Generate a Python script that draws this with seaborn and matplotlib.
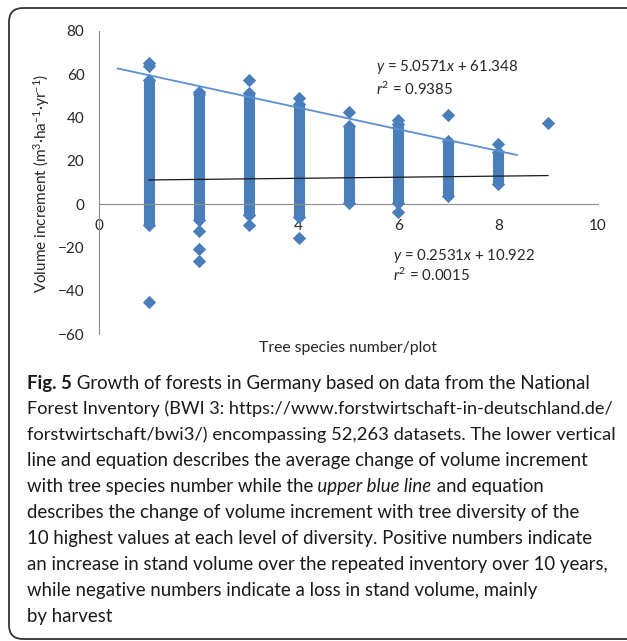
import numpy as np
import pandas as pd
import matplotlib.pyplot as plt
import seaborn as sns
from matplotlib.patches import FancyBboxPatch

# columns of plots per tree species number (solid part of each column)
species = [1, 2, 3, 4, 5, 6, 7, 8]
body_low = [-9.5, -7.5, -5.0, -6.0, 0.5, 0.5, 3.8, 9.2]
body_high = [57.5, 51.0, 51.5, 46.5, 36.0, 37.0, 29.0, 24.0]

# single diamonds sticking out of the columns
out_x = [1, 1, 1, 2, 2, 2, 2, 3, 3, 4, 4, 5, 6, 6, 7, 8, 9]
out_y = [65.3, 63.8, -45.3, 51.8, -12.5, -20.5, -26.2, 57.3, -9.7,
         48.9, -15.8, 42.7, 38.8, -3.5, 41.2, 27.7, 37.3]

# trend lines
top_x = [0.37, 8.38]
top_y = [62.7, 22.7]
mean_x = [1, 9]
mean_y = [11.18, 13.20]

yticks = [-60, -40, -20, 0, 20, 40, 60, 80]
xticks = [0, 2, 4, 6, 8, 10]

sns.set_style('white')
plt.rcParams['font.family'] = ['Lato', 'DejaVu Sans']
plt.rcParams['mathtext.fontset'] = 'custom'
plt.rcParams['mathtext.rm'] = 'Lato'
plt.rcParams['mathtext.it'] = 'Lato:italic'
plt.rcParams['mathtext.bf'] = 'Lato:bold'

blue = '#4a7ebb'
grey = '#8c8c8c'
txt = '#262626'

df = pd.DataFrame({
    'species': species + species + out_x,
    'increment': body_low + body_high + out_y,
})

fig = plt.figure(figsize=(6.27, 6.41), dpi=100)
ax = fig.add_axes([99 / 627, (641 - 334) / 641, 499 / 627, 303 / 641])

ax.vlines(species, body_low, body_high, color=blue, lw=8, zorder=2)
sns.scatterplot(data=df, x='species', y='increment', marker='D', s=46,
                color=blue, linewidth=0, ax=ax, zorder=3)
ax.plot(top_x, top_y, color='#5b8fd3', lw=1.3, zorder=4)
ax.plot(mean_x, mean_y, color='#1a1a1a', lw=0.9, zorder=4)

ax.set_xlim(0, 10)
ax.set_ylim(-60, 80)
ax.set_xticks(xticks)
ax.set_yticks(yticks)
ax.set_yticklabels([str(v).replace('-', '\u2212') for v in yticks])

for s in ['top', 'right']:
    ax.spines[s].set_visible(False)
ax.spines['bottom'].set_position(('data', 0))
for s in ['left', 'bottom']:
    ax.spines[s].set_color(grey)
    ax.spines[s].set_linewidth(0.8)
ax.tick_params(axis='x', direction='out', length=4.5, width=0.8, color=grey,
               pad=6.5, labelsize=11, labelcolor=txt)
ax.tick_params(axis='y', direction='out', length=3.5, width=0.8, color=grey,
               pad=7, labelsize=11, labelcolor=txt)

ax.set_xlabel('')
ax.set_ylabel('')
fig.text(348 / 627, 1 - 348 / 641, 'Tree species number/plot', ha='center',
         va='center', fontsize=11.3, color=txt)
fig.text(42 / 627, 1 - 183 / 641,
         'Volume increment (m$^{3}$\u00b7ha$^{\u22121}$\u00b7yr$^{\u22121}$)',
         rotation=90, ha='center', va='center', fontsize=11, color=txt)

ax.text(5.55, 63.5, '$\\it{y}$ = 5.0571$\\it{x}$ + 61.348', fontsize=10.8,
        va='center', color=txt)
ax.text(5.55, 53.0, '$\\it{r}^{2}$ = 0.9385', fontsize=10.8, va='center', color=txt)
ax.text(5.9, -24.0, '$\\it{y}$ = 0.2531$\\it{x}$ + 10.922', fontsize=10.8,
        va='center', color=txt)
ax.text(5.9, -32.8, '$\\it{r}^{2}$ = 0.0015', fontsize=10.8, va='center', color=txt)

# rounded frame around figure and caption
box = FancyBboxPatch((9, 2), 660, 631, boxstyle='round,pad=0,rounding_size=14',
                     transform=None, fill=False, edgecolor='#333333', lw=1.3)
fig.patches.append(box)

# caption, drawn piece by piece so bold / italic parts sit inline
caption = [
    [('Fig. 5', 'bold'), (' Growth of forests in Germany based on data from the National', 'normal')],
    [('Forest Inventory (BWI 3: https://www.forstwirtschaft-in-deutschland.de/', 'normal')],
    [('forstwirtschaft/bwi3/) encompassing 52,263 datasets. The lower vertical', 'normal')],
    [('line and equation describes the average change of volume increment', 'normal')],
    [('with tree species number while the', 'normal'), (' upper blue line', 'italic'),
     (' and equation', 'normal')],
    [('describes the change of volume increment with tree diversity of the', 'normal')],
    [('10 highest values at each level of diversity. Positive numbers indicate', 'normal')],
    [('an increase in stand volume over the repeated inventory over 10 years,', 'normal')],
    [('while negative numbers indicate a loss in stand volume, mainly', 'normal')],
    [('by harvest', 'normal')],
]
renderer = fig.canvas.get_renderer()


def draw_line(parts, y, size):
    x = 27
    made = []
    for text, style in parts:
        t = fig.text(x / 627, 1 - y / 641, text, va='center', ha='left',
                     fontsize=size, color='#1a1a1a',
                     fontweight='bold' if style == 'bold' else 'normal',
                     fontstyle='italic' if style == 'italic' else 'normal')
        made.append(t)
        x = t.get_window_extent(renderer).x1
    return made, x


for i, parts in enumerate(caption):
    y = 383 + i * 25.9
    size = 13.4
    made, right = draw_line(parts, y, size)
    if right > 614:
        for t in made:
            t.remove()
        size = size * (614 - 27) / (right - 27)
        draw_line(parts, y, size)

fig.savefig('out.png', dpi=100)
